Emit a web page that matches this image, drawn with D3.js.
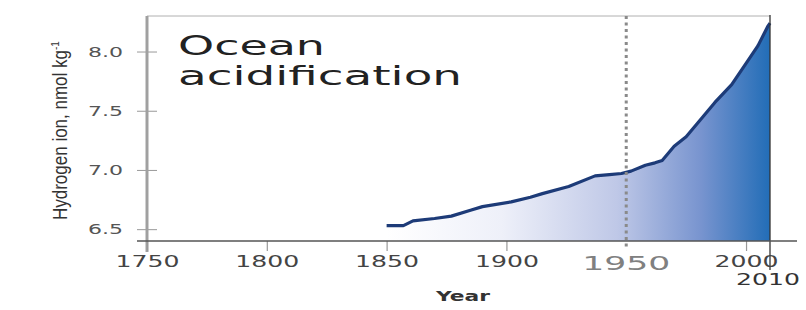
<!DOCTYPE html>
<html>
<head>
<meta charset="utf-8">
<script src="https://cdn.jsdelivr.net/npm/d3@7"></script>
<style>
  body { margin: 0; background: #fff; }
  svg { display: block; }
</style>
</head>
<body>
<div id="chart"></div>
<script>
// frame
const FRAME_WIDTH = 806;
const FRAME_HEIGHT = 310;

// data
const years = [1850, 1857, 1861, 1870, 1877, 1885, 1890, 1902, 1910, 1915, 1926, 1937, 1943, 1948,
               1952, 1958, 1962, 1965, 1970, 1975, 1980, 1987, 1994, 2001, 2005, 2009, 2010];
const hydrogen = [6.53, 6.53, 6.57, 6.59, 6.61, 6.66, 6.69, 6.73, 6.77, 6.80, 6.86, 6.95, 6.96, 6.97,
                  6.99, 7.04, 7.06, 7.08, 7.20, 7.28, 7.40, 7.57, 7.72, 7.93, 8.05, 8.21, 8.24];
const xTicks = [1750, 1800, 1850, 1900, 2000];
const yTicks = [6.5, 7.0, 7.5, 8.0];
const markYear = 1950;
const endYear = 2010;

const data = years.map((y, i) => ({year: y, value: hydrogen[i]}));

const svg = d3.select('#chart')
  .append('svg')
    .attr('width', FRAME_WIDTH)
    .attr('height', FRAME_HEIGHT);

// scales
const xScale = d3.scaleLinear().domain([1750, 2010]).range([147, 770]);
const yScale = d3.scaleLinear().domain([6.4, 8.3]).range([241, 16]);
const y0 = yScale(6.4);

// gradient for the area
const grad = svg.append('defs').append('linearGradient')
  .attr('id', 'fillGrad')
  .attr('gradientUnits', 'userSpaceOnUse')
  .attr('x1', xScale(1850)).attr('x2', xScale(2010))
  .attr('y1', 0).attr('y2', 0);
[[0, '#ffffff'], [0.3, '#eef0f9'], [0.6, '#bfc8e7'], [0.82, '#7894cf'], [1, '#226db7']]
  .forEach(s => grad.append('stop').attr('offset', s[0]).attr('stop-color', s[1]));

// top frame line
svg.append('line')
  .attr('x1', xScale(1750)).attr('x2', xScale(endYear))
  .attr('y1', yScale(8.3)).attr('y2', yScale(8.3))
  .attr('stroke', '#b0b0b0').attr('stroke-width', 1);

// area + line
const area = d3.area()
  .x(d => xScale(d.year))
  .y0(y0)
  .y1(d => yScale(d.value));
svg.append('path').datum(data)
  .attr('d', area)
  .attr('fill', 'url(#fillGrad)');

const line = d3.line()
  .x(d => xScale(d.year))
  .y(d => yScale(d.value));
svg.append('path').datum(data)
  .attr('d', line)
  .attr('fill', 'none')
  .attr('stroke', '#1d3b78')
  .attr('stroke-width', 3.2)
  .attr('stroke-linejoin', 'round');

// 1950 dotted line
svg.append('line')
  .attr('x1', xScale(markYear)).attr('x2', xScale(markYear))
  .attr('y1', yScale(8.3)).attr('y2', y0 + 9)
  .attr('stroke', '#8a8a8a').attr('stroke-width', 3)
  .attr('stroke-dasharray', '3,3.5');

// 2010 line
svg.append('line')
  .attr('x1', xScale(endYear)).attr('x2', xScale(endYear))
  .attr('y1', yScale(8.3) - 1).attr('y2', 270)
  .attr('stroke', '#333').attr('stroke-width', 1.3);

// y axis
const yAxis = svg.append('g')
  .attr('transform', 'translate(' + xScale(1750) + ',0)')
  .call(d3.axisLeft(yScale).tickValues(yTicks).tickFormat(d3.format('.1f')).tickSize(10).tickPadding(14));
yAxis.select('.domain').remove();
yAxis.selectAll('.tick line').attr('x1', 10).attr('stroke', '#999');
yAxis.selectAll('.tick text')
  .attr('font-family', 'DejaVu Sans, sans-serif')
  .attr('font-size', 14)
  .attr('fill', '#555')
  .attr('textLength', 35)
  .attr('lengthAdjust', 'spacingAndGlyphs');
svg.append('line')
  .attr('x1', xScale(1750)).attr('x2', xScale(1750))
  .attr('y1', yScale(8.3)).attr('y2', 252)
  .attr('stroke', '#a0a0a0').attr('stroke-width', 3);

// x axis
const xAxis = svg.append('g')
  .attr('transform', 'translate(0,' + y0 + ')')
  .call(d3.axisBottom(xScale).tickValues(xTicks).tickFormat(d3.format('d')).tickSize(10).tickPadding(5));
xAxis.select('.domain').remove();
xAxis.selectAll('.tick line').attr('stroke', '#999').attr('stroke-width', 1.2);
xAxis.selectAll('.tick text')
  .attr('font-family', 'DejaVu Sans, sans-serif')
  .attr('font-size', 15)
  .attr('fill', '#444')
  .attr('textLength', 64)
  .attr('lengthAdjust', 'spacingAndGlyphs');
svg.append('line')
  .attr('x1', 137).attr('x2', 797)
  .attr('y1', y0).attr('y2', y0)
  .attr('stroke', '#555').attr('stroke-width', 1.5);

// 1950 and 2010 labels
svg.append('text')
  .attr('x', xScale(markYear)).attr('y', 270)
  .attr('text-anchor', 'middle')
  .attr('font-family', 'DejaVu Sans, sans-serif')
  .attr('font-size', 20)
  .attr('fill', '#808080')
  .attr('textLength', 88)
  .attr('lengthAdjust', 'spacingAndGlyphs')
  .text(markYear);
svg.append('text')
  .attr('x', xScale(endYear) - 2).attr('y', 285)
  .attr('text-anchor', 'middle')
  .attr('font-family', 'DejaVu Sans, sans-serif')
  .attr('font-size', 15)
  .attr('fill', '#333')
  .attr('textLength', 64)
  .attr('lengthAdjust', 'spacingAndGlyphs')
  .text(endYear);

// axis titles
svg.append('text')
  .attr('x', 463).attr('y', 301)
  .attr('text-anchor', 'middle')
  .attr('font-family', 'DejaVu Sans, sans-serif')
  .attr('font-weight', 'bold')
  .attr('font-size', 14)
  .attr('fill', '#333')
  .attr('textLength', 54)
  .attr('lengthAdjust', 'spacingAndGlyphs')
  .text('Year');

const yTitle = svg.append('text')
  .attr('transform', 'translate(67,220) rotate(-90)')
  .attr('font-family', 'Liberation Sans, sans-serif')
  .attr('font-size', 20)
  .attr('fill', '#333');
yTitle.append('tspan')
  .attr('textLength', 170)
  .attr('lengthAdjust', 'spacingAndGlyphs')
  .text('Hydrogen ion, nmol kg');
yTitle.append('tspan').attr('dy', -8).attr('font-size', 10).text('-1');

// chart title
const title = svg.append('g')
  .attr('font-family', 'DejaVu Sans, sans-serif')
  .attr('font-size', 26)
  .attr('fill', '#222');
title.append('text').attr('x', 178).attr('y', 55)
  .attr('textLength', 147).attr('lengthAdjust', 'spacingAndGlyphs').text('Ocean');
title.append('text').attr('x', 178).attr('y', 85)
  .attr('textLength', 284).attr('lengthAdjust', 'spacingAndGlyphs').text('acidification');
</script>
</body>
</html>
